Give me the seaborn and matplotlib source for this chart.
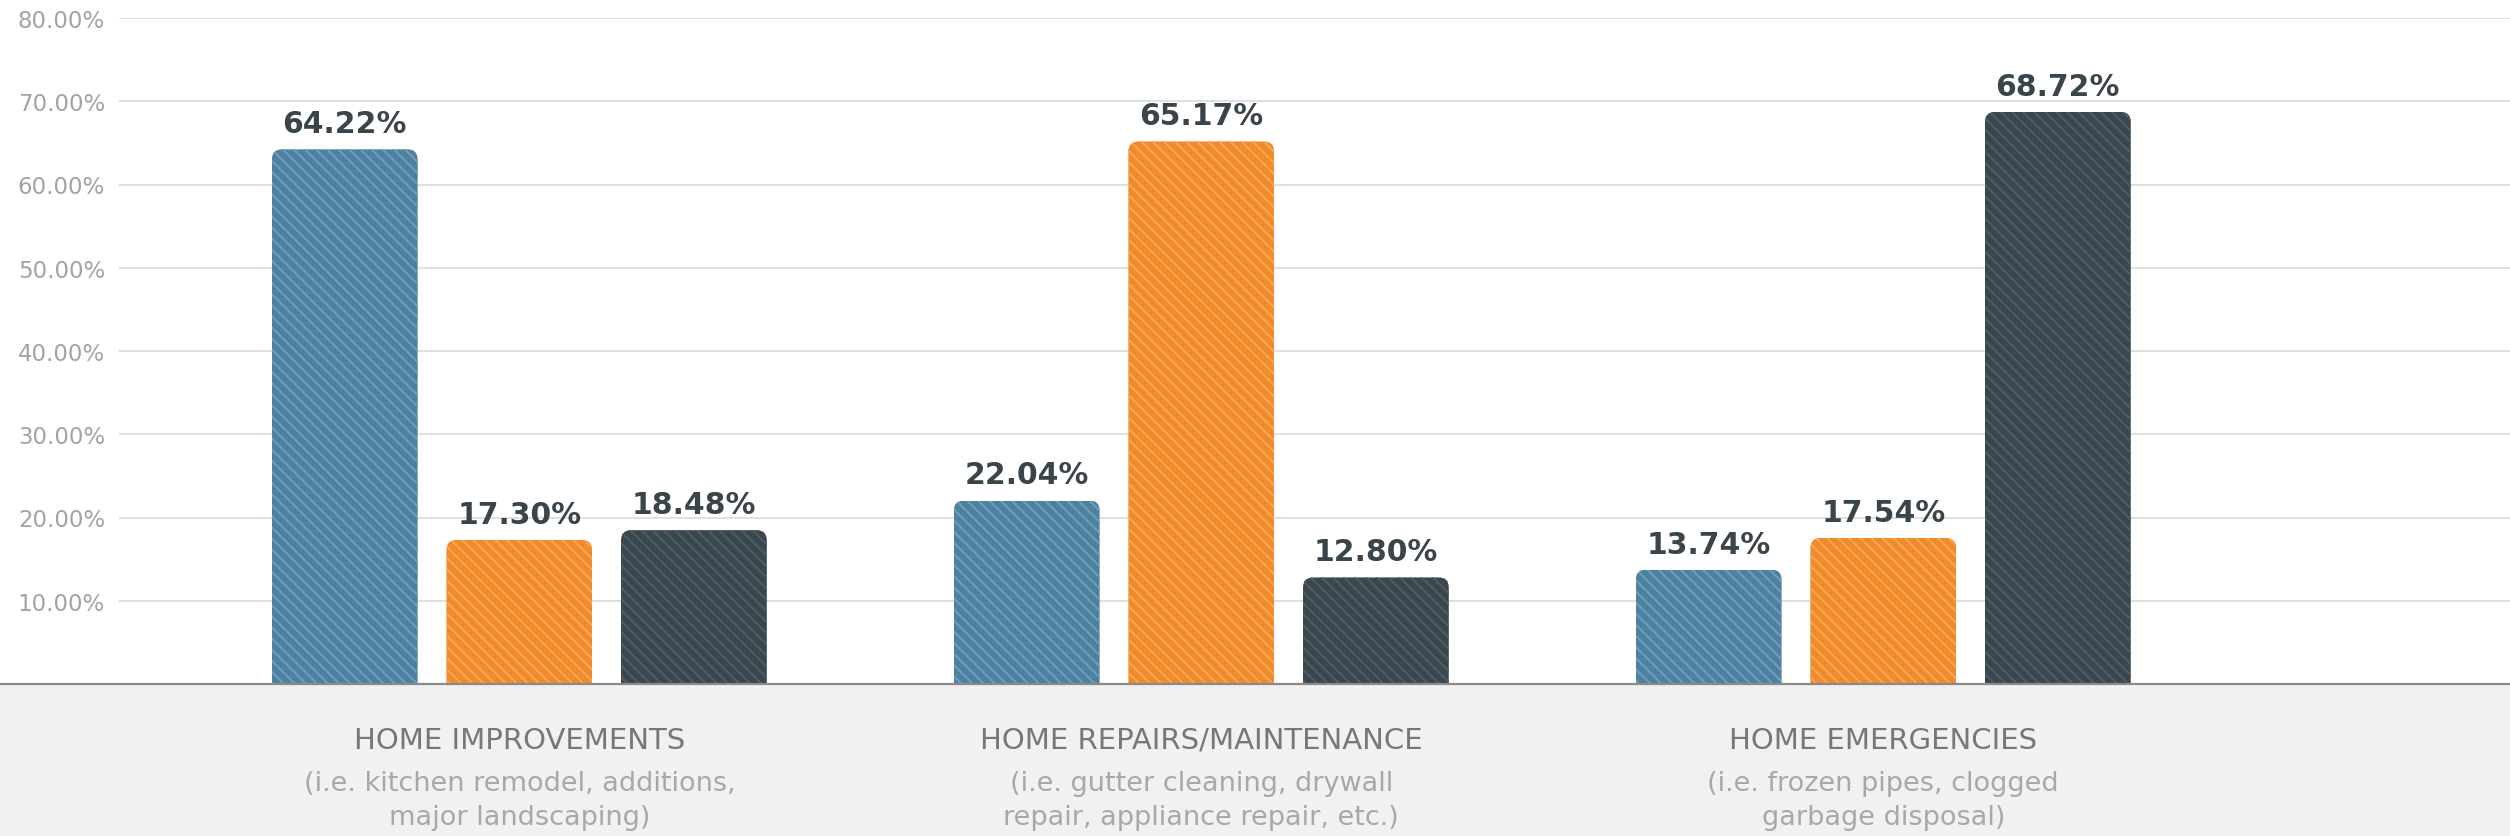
import numpy as np
import pandas as pd
import matplotlib
matplotlib.use("Agg")
import matplotlib.pyplot as plt
import matplotlib.transforms as mtransforms
from matplotlib.patches import FancyBboxPatch, Rectangle
from matplotlib.lines import Line2D
import seaborn as sns

# ---------------- data ----------------
categories = ["HOME IMPROVEMENTS", "HOME REPAIRS/MAINTENANCE", "HOME EMERGENCIES"]
category_notes_line1 = ["(i.e. kitchen remodel, additions,",
                        "(i.e. gutter cleaning, drywall",
                        "(i.e. frozen pipes, clogged"]
category_notes_line2 = ["major landscaping)",
                        "repair, appliance repair, etc.)",
                        "garbage disposal)"]
series_names = ["Series 1", "Series 2", "Series 3"]
series1_values = [64.22, 22.04, 13.74]
series2_values = [17.30, 65.17, 17.54]
series3_values = [18.48, 12.80, 68.72]
y_ticks = [10, 20, 30, 40, 50, 60, 70, 80]
y_tick_labels = ["10.00%", "20.00%", "30.00%", "40.00%", "50.00%", "60.00%", "70.00%", "80.00%"]

# ---------------- style ----------------
base_colors = ["#4e81a0", "#f08a2b", "#3b474e"]
stripe_colors = ["#6c9dba", "#f6a651", "#4d5c64"]

sns.set_style("white")
plt.rcParams["font.family"] = ["DejaVu Sans"]
plt.rcParams["hatch.linewidth"] = 1.5

df = pd.DataFrame({
    "category": categories * 3,
    "series": [series_names[0]] * 3 + [series_names[1]] * 3 + [series_names[2]] * 3,
    "value": series1_values + series2_values + series3_values,
})

W, H = 2510, 837
fig = plt.figure(figsize=(W / 100, H / 100), dpi=100)
fig.patch.set_facecolor("white")

ax_left, ax_bottom, ax_top = 119, 685, 19
ax = fig.add_axes([ax_left / W, (H - ax_bottom) / H, 1 - ax_left / W, (ax_bottom - ax_top) / H])

# grey band under the plot
fig.patches.append(Rectangle((0, 0), 1, (H - ax_bottom) / H, transform=fig.transFigure,
                             facecolor="#f1f1f1", edgecolor="none", zorder=-1))

sns.barplot(data=df, x="category", y="value", hue="series",
            order=categories, hue_order=series_names,
            palette=base_colors, saturation=1, width=0.768, gap=0.165,
            errorbar=None, legend=False, ax=ax, zorder=3)

xlim = (-0.587, 2.919)
ylim = (0, 80)
ax.set_xlim(*xlim)
ax.set_ylim(*ylim)

# rounded top corners via clip path
ax_w_px = W - ax_left
ax_h_px = ax_bottom - ax_top
xupp = (xlim[1] - xlim[0]) / ax_w_px
yupp = (ylim[1] - ylim[0]) / ax_h_px
radius_px = 10
rs = radius_px * xupp
m = yupp / xupp

for ci, cont in enumerate(ax.containers):
    for p in cont.patches:
        p.set_edgecolor(stripe_colors[ci])
        p.set_linewidth(0)
        p.set_hatch("\\\\\\")
        x, w, h = p.get_x(), p.get_width(), p.get_height()
        clip = FancyBboxPatch((x, -20), w, h + 20,
                              boxstyle=f"round,pad=0,rounding_size={rs}",
                              mutation_aspect=m, transform=ax.transData)
        p.set_clip_path(clip)
    vals = [series1_values, series2_values, series3_values][ci]
    ax.bar_label(cont, labels=[f"{v:.2f}%" for v in vals], padding=8,
                 fontsize=21.5, fontweight="bold", color="#3a454b")

# axes styling
for s in ax.spines.values():
    s.set_visible(False)
ax.set_axisbelow(True)
ax.yaxis.grid(True, color="#dddddd", linewidth=1.3)
ax.xaxis.grid(False)
ax.set_yticks(y_ticks, labels=y_tick_labels)
ax.tick_params(axis="y", length=0, pad=10, labelsize=16.5, labelcolor="#a3a3a3")
ax.set_xticks([])
ax.set_xlabel("")
ax.set_ylabel("")

# baseline across full width
fig.lines.append(Line2D([0, 1], [(H - ax_bottom) / H] * 2, transform=fig.transFigure,
                        color="#8a8a8a", linewidth=1.6, zorder=5))

# category labels
trans = mtransforms.blended_transform_factory(ax.transData, fig.transFigure)
for i, cat in enumerate(categories):
    ax.text(i, (H - 741) / H, cat, transform=trans, ha="center", va="center",
            fontsize=21, color="#777777", clip_on=False)
    ax.text(i, (H - 784) / H, category_notes_line1[i], transform=trans, ha="center", va="center",
            fontsize=19.5, color="#a8a8a8", clip_on=False)
    ax.text(i, (H - 818) / H, category_notes_line2[i], transform=trans, ha="center", va="center",
            fontsize=19.5, color="#a8a8a8", clip_on=False)

fig.savefig("out.png", dpi=100)
